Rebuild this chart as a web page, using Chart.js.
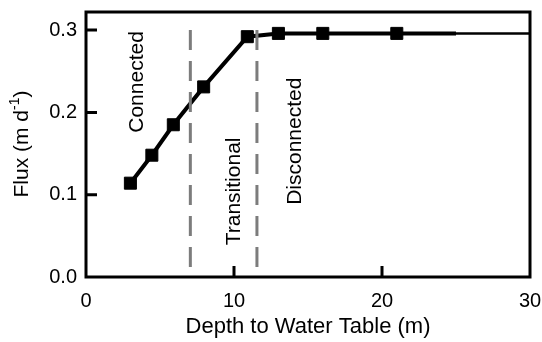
<!DOCTYPE html>
<html>
<head>
<meta charset="utf-8">
<script src="https://cdn.jsdelivr.net/npm/chart.js@4/dist/chart.umd.min.js"></script>
<style>
  html, body { margin: 0; padding: 0; background: #fff; }
  #wrap { width: 542px; height: 342px; }
</style>
</head>
<body>
<div id="wrap"><canvas id="chart" width="542" height="342"></canvas></div>
<script>
// Data
const depth = [3, 4.45, 5.9, 7.95, 10.9, 13, 16, 21, 25];
const flux = [0.114, 0.148, 0.185, 0.231, 0.292, 0.296, 0.296, 0.296, 0.296];
const markerCount = 8; // last point has no marker
const tailDepth = [25, 30];
const tailFlux = [0.296, 0.296];
const boundaryDepth = [7.05, 11.55];
const boundaryFlux = [0.3, 0.006];
const xTicks = [0, 10, 20, 30];
const yTicks = [0, 0.1, 0.2, 0.3];
const regionLabels = ['Connected', 'Transitional', 'Disconnected'];
const regionX = [3.45, 10.0, 14.15];
const regionY = [0.237, 0.104, 0.165];

const FONT = "'Liberation Sans', Arial, Helvetica, sans-serif";
const DASH_COLOR = '#7c7c7c';

const toPts = (xs, ys) => xs.map((x, i) => ({ x: x, y: ys[i] }));

// frame, inward ticks, rotated labels, y title with superscript
const decor = {
  id: 'decor',
  afterDraw(chart) {
    const { ctx, chartArea: a, scales: { x, y } } = chart;
    ctx.save();
    ctx.strokeStyle = '#000';
    ctx.lineWidth = 3;
    ctx.strokeRect(a.left, a.top, a.right - a.left, a.bottom - a.top);

    ctx.beginPath();
    xTicks.slice(1, -1).forEach(v => {
      const px = x.getPixelForValue(v);
      ctx.moveTo(px, a.bottom);
      ctx.lineTo(px, a.bottom - 11);
    });
    yTicks.slice(1).forEach(v => {
      const py = y.getPixelForValue(v);
      ctx.moveTo(a.left, py);
      ctx.lineTo(a.left + 11, py);
    });
    ctx.stroke();

    ctx.fillStyle = '#000';
    ctx.font = '21px ' + FONT;
    ctx.textAlign = 'center';
    ctx.textBaseline = 'middle';
    regionLabels.forEach((t, i) => {
      ctx.save();
      ctx.translate(x.getPixelForValue(regionX[i]), y.getPixelForValue(regionY[i]));
      ctx.rotate(-Math.PI / 2);
      ctx.fillText(t, 0, 0);
      ctx.restore();
    });

    // y axis title: Flux (m d^-1)
    ctx.save();
    ctx.translate(22, 144);
    ctx.rotate(-Math.PI / 2);
    ctx.textAlign = 'left';
    ctx.textBaseline = 'middle';
    const big = '21px ' + FONT, small = '14px ' + FONT;
    ctx.font = big;
    const w1 = ctx.measureText('Flux (m d').width;
    const w3 = ctx.measureText(')').width;
    ctx.font = small;
    const w2 = ctx.measureText('-1').width;
    let cx = -(w1 + w2 + w3) / 2;
    ctx.font = big;
    ctx.fillText('Flux (m d', cx, 0);
    cx += w1;
    ctx.font = small;
    ctx.fillText('-1', cx, -7);
    cx += w2;
    ctx.font = big;
    ctx.fillText(')', cx, 0);
    ctx.restore();
    ctx.restore();
  }
};

new Chart(document.getElementById('chart'), {
  type: 'line',
  data: {
    datasets: [
      {
        data: toPts([boundaryDepth[0], boundaryDepth[0]], boundaryFlux),
        borderColor: DASH_COLOR,
        borderWidth: 3,
        borderDash: [20, 11],
        pointRadius: 0
      },
      {
        data: toPts([boundaryDepth[1], boundaryDepth[1]], boundaryFlux),
        borderColor: DASH_COLOR,
        borderWidth: 3,
        borderDash: [20, 11],
        pointRadius: 0
      },
      {
        data: toPts(depth, flux),
        borderColor: '#000',
        borderWidth: 4,
        pointStyle: 'rect',
        pointRadius: depth.map((d, i) => i < markerCount ? 8.5 : 0),
        pointBackgroundColor: '#000',
        pointBorderColor: '#000',
        pointBorderWidth: 1
      },
      {
        data: toPts(tailDepth, tailFlux),
        borderColor: '#000',
        borderWidth: 2.5,
        pointRadius: 0
      }
    ]
  },
  options: {
    responsive: false,
    animation: false,
    layout: { padding: { top: 12, right: 12, left: 0, bottom: 0 } },
    plugins: {
      legend: { display: false },
      tooltip: { enabled: false }
    },
    scales: {
      x: {
        type: 'linear',
        min: 0,
        max: 30,
        grid: { display: false, drawTicks: false },
        border: { display: false },
        ticks: {
          stepSize: 10,
          color: '#000',
          padding: 12,
          font: { family: FONT, size: 20 }
        },
        title: {
          display: true,
          text: 'Depth to Water Table (m)',
          color: '#000',
          font: { family: FONT, size: 22 },
          padding: { top: 0, bottom: 2 }
        },
        afterFit: s => { s.height = 65; s.paddingLeft = 0; s.paddingRight = 0; }
      },
      y: {
        min: 0,
        max: 0.322,
        grid: { display: false, drawTicks: false },
        border: { display: false },
        ticks: {
          stepSize: 0.1,
          includeBounds: false,
          color: '#000',
          padding: 9,
          font: { family: FONT, size: 20 },
          callback: v => v.toFixed(1)
        },
        afterFit: s => { s.width = 86; s.paddingTop = 0; s.paddingBottom = 0; }
      }
    }
  },
  plugins: [decor]
});
</script>
</body>
</html>
